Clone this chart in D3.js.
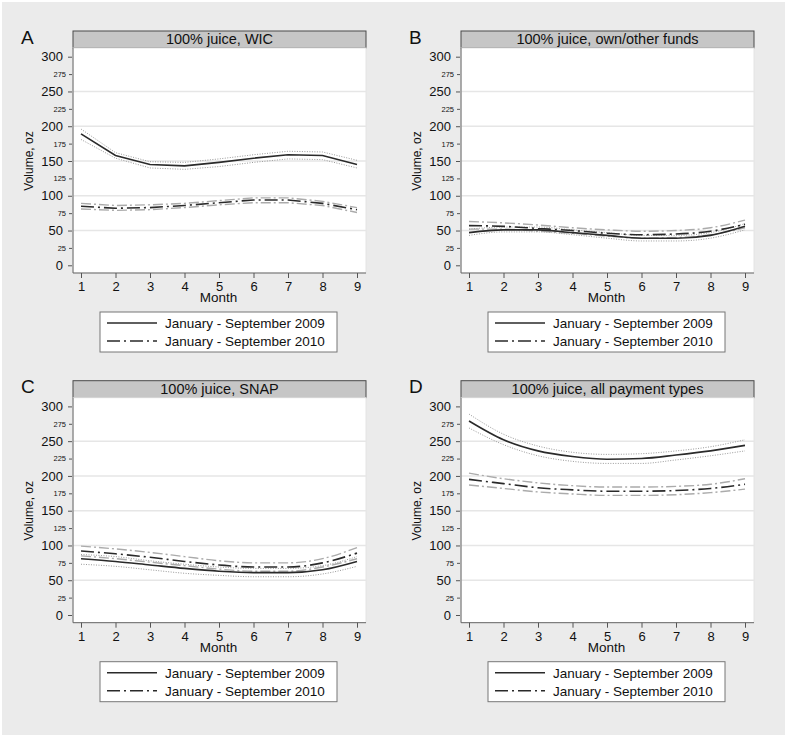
<!DOCTYPE html>
<html>
<head>
<meta charset="utf-8">
<script src="https://cdn.jsdelivr.net/npm/d3@7"></script>
<style>
  html, body { margin: 0; padding: 0; background: #ffffff; }
  svg { display: block; font-family: "Liberation Sans", Arial, sans-serif; }
</style>
</head>
<body>
<svg id="chart" width="788" height="737"></svg>
<script>
// ---------- data ----------
const months = [1, 2, 3, 4, 5, 6, 7, 8, 9];
const yMajorTicks = [0, 50, 100, 150, 200, 250, 300];
const yMinorTicks = [25, 75, 125, 175, 225, 275];
const gridValues = [50, 100, 150, 200, 250];
const legendLabels = ["January - September 2009", "January - September 2010"];
const panelLetters = ["A", "B", "C", "D"];
const panelTitles = ["100% juice, WIC", "100% juice, own/other funds", "100% juice, SNAP", "100% juice, all payment types"];

// A: WIC
const wic2009   = [189, 158, 145, 143, 148, 154, 159, 158, 145];
const wic2009Lo = [181, 154, 140, 138, 142, 148, 153, 152, 140];
const wic2009Hi = [196, 162, 149, 148, 153, 159, 164, 163, 151];
const wic2010   = [85, 82, 83, 86, 90, 94, 94, 89, 80];
const wic2010Lo = [81, 79, 80, 83, 87, 90, 90, 86, 76];
const wic2010Hi = [89, 86, 87, 89, 93, 97, 97, 92, 83];

// B: own/other funds
const own2009   = [47, 51, 51, 47, 43, 39, 39, 43, 56];
const own2009Lo = [43, 48, 48, 44, 39, 35, 35, 39, 51];
const own2009Hi = [52, 55, 55, 51, 47, 43, 43, 47, 60];
const own2010   = [57, 56, 53, 50, 46, 44, 45, 49, 59];
const own2010Lo = [52, 52, 49, 46, 42, 39, 40, 44, 54];
const own2010Hi = [63, 61, 58, 54, 51, 49, 50, 54, 65];

// C: SNAP
const snap2009   = [81, 77, 72, 67, 63, 61, 61, 65, 77];
const snap2009Lo = [73, 70, 65, 60, 57, 55, 55, 59, 70];
const snap2009Hi = [87, 84, 78, 73, 69, 67, 67, 71, 84];
const snap2010   = [92, 88, 83, 77, 72, 69, 69, 75, 89];
const snap2010Lo = [85, 81, 76, 71, 66, 63, 63, 69, 81];
const snap2010Hi = [99, 95, 90, 84, 78, 75, 75, 81, 97];

// D: all payment types
const all2009   = [279, 252, 236, 228, 224, 225, 230, 236, 244];
const all2009Lo = [269, 245, 229, 221, 218, 218, 223, 229, 236];
const all2009Hi = [289, 260, 243, 234, 231, 232, 236, 242, 252];
const all2010   = [195, 189, 183, 180, 178, 178, 179, 182, 188];
const all2010Lo = [187, 182, 177, 174, 172, 172, 173, 176, 181];
const all2010Hi = [204, 196, 190, 186, 184, 184, 185, 188, 196];

const panelSeries = [
  { s09: wic2009,  lo09: wic2009Lo,  hi09: wic2009Hi,  s10: wic2010,  lo10: wic2010Lo,  hi10: wic2010Hi },
  { s09: own2009,  lo09: own2009Lo,  hi09: own2009Hi,  s10: own2010,  lo10: own2010Lo,  hi10: own2010Hi },
  { s09: snap2009, lo09: snap2009Lo, hi09: snap2009Hi, s10: snap2010, lo10: snap2010Lo, hi10: snap2010Hi },
  { s09: all2009,  lo09: all2009Lo,  hi09: all2009Hi,  s10: all2010,  lo10: all2010Lo,  hi10: all2010Hi }
];

// ---------- layout ----------
const panelOffsets = [[0, 0], [388, 0], [0, 349.7], [388, 349.7]];
const curves = [d3.curveLinear, d3.curveMonotoneX, d3.curveMonotoneX, d3.curveMonotoneX];

const svg = d3.select("#chart");
svg.append("rect").attr("x", 2).attr("y", 2).attr("width", 783).attr("height", 733)
  .attr("fill", "#ebebeb");

const plotL = 73, plotR = 366, plotT = 48, plotB = 273;
const x = d3.scaleLinear().domain([1, 9]).range([81, 357]);
const y = d3.scaleLinear().domain([0, 300]).range([265.3, 56.7]);

const mainColor = "#2a2a2a";
const dashDot = "13,4,2,4";

panelSeries.forEach((ser, i) => {
  const g = svg.append("g").attr("transform", `translate(${panelOffsets[i][0]},${panelOffsets[i][1]})`);

  // panel letter
  g.append("text").attr("x", 21).attr("y", 43.5).attr("font-size", 19).attr("fill", "#111")
    .text(panelLetters[i]);

  // header strip
  g.append("rect").attr("x", plotL).attr("y", 31).attr("width", plotR - plotL).attr("height", 17)
    .attr("fill", "#c6c6c6").attr("stroke", "#4a4a4a").attr("stroke-width", 1);
  g.append("text").attr("x", (plotL + plotR) / 2).attr("y", 44).attr("text-anchor", "middle")
    .attr("font-size", 14.5).attr("fill", "#111").text(panelTitles[i]);

  // plot area
  g.append("rect").attr("x", plotL).attr("y", plotT).attr("width", plotR - plotL).attr("height", plotB - plotT)
    .attr("fill", "#ffffff").attr("stroke", "#e4e4e4").attr("stroke-width", 1);

  // gridlines
  g.selectAll("line.grid").data(gridValues).join("line").attr("class", "grid")
    .attr("x1", plotL).attr("x2", plotR).attr("y1", d => y(d)).attr("y2", d => y(d))
    .attr("stroke", "#e6e6e6").attr("stroke-width", 1.5);

  // axes lines
  g.append("line").attr("x1", plotL).attr("x2", plotL).attr("y1", plotT).attr("y2", plotB)
    .attr("stroke", "#666").attr("stroke-width", 1);
  g.append("line").attr("x1", plotL).attr("x2", plotR).attr("y1", plotB).attr("y2", plotB)
    .attr("stroke", "#666").attr("stroke-width", 1);

  // y axis major
  const yAx = g.append("g").attr("transform", `translate(${plotL - 1},0)`)
    .call(d3.axisLeft(y).tickValues(yMajorTicks).tickSize(4).tickPadding(5).tickSizeOuter(0));
  yAx.select(".domain").remove();
  yAx.selectAll("line").attr("stroke", "#555");
  yAx.selectAll("text").attr("font-size", 13).attr("fill", "#111")
    .attr("font-family", '"Liberation Sans", Arial, sans-serif');

  // y axis minor
  const yAxm = g.append("g").attr("transform", `translate(${plotL - 1},0)`)
    .call(d3.axisLeft(y).tickValues(yMinorTicks).tickSize(3).tickPadding(3).tickSizeOuter(0));
  yAxm.select(".domain").remove();
  yAxm.selectAll("line").attr("stroke", "#555");
  yAxm.selectAll("text").attr("font-size", 7.5).attr("fill", "#111")
    .attr("font-family", '"Liberation Sans", Arial, sans-serif');

  // x axis
  const xAx = g.append("g").attr("transform", `translate(0,${plotB})`)
    .call(d3.axisBottom(x).tickValues(months).tickFormat(d3.format("d")).tickSize(5).tickPadding(4).tickSizeOuter(0));
  xAx.select(".domain").remove();
  xAx.selectAll("line").attr("stroke", "#555");
  xAx.selectAll("text").attr("font-size", 13).attr("fill", "#111")
    .attr("font-family", '"Liberation Sans", Arial, sans-serif');

  // axis titles
  g.append("text").attr("x", 218.5).attr("y", 302).attr("text-anchor", "middle")
    .attr("font-size", 13.5).attr("fill", "#111").text("Month");
  g.append("text").attr("transform", "translate(33,161) rotate(-90)").attr("text-anchor", "middle")
    .attr("font-size", 12).attr("fill", "#111").text("Volume, oz");

  // lines
  const line = d3.line().x((d, k) => x(months[k])).y(d => y(d)).curve(curves[i]);
  const plotG = g.append("g");
  // CI 2010
  [ser.lo10, ser.hi10].forEach(arr => {
    plotG.append("path").attr("d", line(arr)).attr("fill", "none")
      .attr("stroke", "#ababab").attr("stroke-width", 1.4).attr("stroke-dasharray", "10,3,2,3");
  });
  // CI 2009
  [ser.lo09, ser.hi09].forEach(arr => {
    plotG.append("path").attr("d", line(arr)).attr("fill", "none")
      .attr("stroke", "#9a9a9a").attr("stroke-width", 1).attr("stroke-dasharray", "1,1.5");
  });
  // main 2010
  plotG.append("path").attr("d", line(ser.s10)).attr("fill", "none")
    .attr("stroke", mainColor).attr("stroke-width", 1.6).attr("stroke-dasharray", dashDot);
  // main 2009
  plotG.append("path").attr("d", line(ser.s09)).attr("fill", "none")
    .attr("stroke", mainColor).attr("stroke-width", 1.6);

  // legend
  const lg = g.append("g");
  lg.append("rect").attr("x", 100).attr("y", 312).attr("width", 237).attr("height", 40)
    .attr("fill", "#ffffff").attr("stroke", "#777").attr("stroke-width", 1);
  lg.append("line").attr("x1", 107).attr("x2", 157).attr("y1", 323).attr("y2", 323)
    .attr("stroke", mainColor).attr("stroke-width", 1.6);
  lg.append("line").attr("x1", 107).attr("x2", 157).attr("y1", 341).attr("y2", 341)
    .attr("stroke", mainColor).attr("stroke-width", 1.6).attr("stroke-dasharray", dashDot);
  legendLabels.forEach((t, k) => {
    lg.append("text").attr("x", 165).attr("y", 328 + k * 18).attr("font-size", 13.5)
      .attr("fill", "#111").text(t);
  });
});
</script>
</body>
</html>
